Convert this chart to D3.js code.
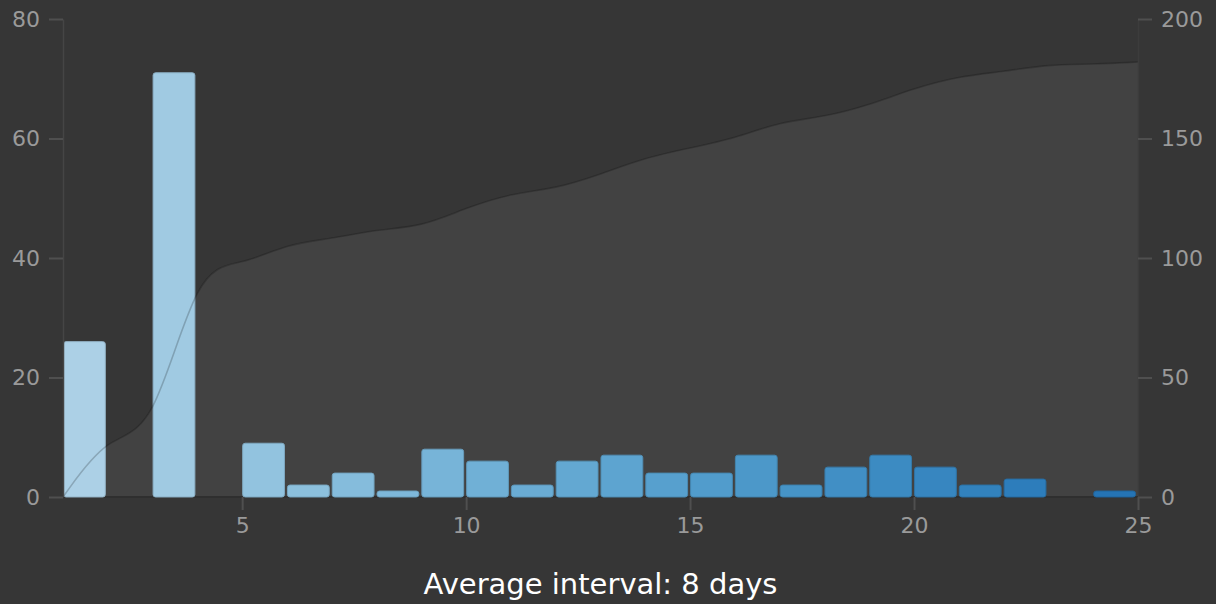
<!DOCTYPE html>
<html>
<head>
<meta charset="utf-8">
<script src="https://cdn.jsdelivr.net/npm/d3@7"></script>
<style>
html,body{margin:0;padding:0;background:#363636;}
svg{display:block;}
text{font-family:"DejaVu Sans",sans-serif;}
</style>
</head>
<body>
<svg id="chart" width="1216" height="604"></svg>
<script>
// ---- data ----
const intervals = [1,2,3,4,5,6,7,8,9,10,11,12,13,14,15,16,17,18,19,20,21,22,23,24];
const counts    = [26,0,71,0,9,2,4,1,8,6,2,6,7,4,4,7,2,5,7,5,2,3,0,1];
const leftTicks  = [0,20,40,60,80];
const rightTicks = [0,50,100,150,200];
const xTicks     = [5,10,15,20,25];
const title = "Average interval: 8 days";

// cumulative series (value at x = i+1 is the total through interval i)
const cumX = [1].concat(intervals.map(d => d + 1));
const cumY = [0];
counts.forEach((c, i) => cumY.push(cumY[i] + c));

const svg = d3.select("#chart");
const W = 1216, H = 604;
svg.append("rect").attr("width", W).attr("height", H).attr("fill", "#363636");

const x = d3.scaleLinear().domain([1, 25]).range([63, 1138]);
const yL = d3.scaleLinear().domain([0, 80]).range([497, 19]);
const yR = d3.scaleLinear().domain([0, 200]).range([497, 19]);
const color = d3.scaleLinear().domain([1, 24]).range([0.33, 0.74]);

// cumulative area (behind bars)
const pts = cumX.map((v, i) => [v, cumY[i]]);
const area = d3.area().x(d => x(d[0])).y0(yR(0)).y1(d => yR(d[1])).curve(d3.curveBasis);
const line = d3.line().x(d => x(d[0])).y(d => yR(d[1])).curve(d3.curveBasis);
svg.append("path").attr("d", area(pts)).attr("fill", "#424242");

// bottom domain line
svg.append("line").attr("x1", x(1)).attr("x2", x(25)).attr("y1", yL(0)).attr("y2", yL(0))
  .attr("stroke", "#2f2f2f").attr("stroke-width", 2);

// bars
const step = x(2) - x(1);
svg.append("g").selectAll("rect").data(intervals.map((d, i) => ({k: d, v: counts[i]})).filter(d => d.v > 0))
  .join("rect")
  .attr("x", d => x(d.k) + 0.5)
  .attr("width", step - 3)
  .attr("y", d => yL(d.v))
  .attr("height", d => yL(0) - yL(d.v))
  .attr("rx", 2.5).attr("ry", 2.5)
  .attr("fill", d => d3.interpolateBlues(color(d.k)))
  .attr("stroke", d => d3.color(d3.interpolateBlues(color(d.k))).darker(0.4))
  .attr("stroke-width", 1);

// cumulative line on top
svg.append("path").attr("d", line(pts)).attr("fill", "none")
  .attr("stroke", "#000").attr("stroke-opacity", 0.2).attr("stroke-width", 1.6);

// axes
function styleAxis(g, domainColor) {
  g.selectAll(".domain").attr("stroke", domainColor).attr("stroke-width", 1.5);
  g.selectAll(".tick line").attr("stroke", "#4f4f4f").attr("stroke-width", 2);
  g.selectAll(".tick text").attr("fill", "#9a9a9a").attr("font-size", 22)
    .attr("font-family", "DejaVu Sans, sans-serif");
}
const gl = svg.append("g").attr("transform", `translate(${x(1)},0)`)
  .call(d3.axisLeft(yL).tickValues(leftTicks).tickSize(14).tickPadding(9).tickSizeOuter(0));
styleAxis(gl, "#454545");
const gr = svg.append("g").attr("transform", `translate(${x(25)},0)`)
  .call(d3.axisRight(yR).tickValues(rightTicks).tickSize(14).tickPadding(9).tickSizeOuter(0));
styleAxis(gr, "#3c3c3c");
const gb = svg.append("g").attr("transform", `translate(0,${yL(0)})`)
  .call(d3.axisBottom(x).tickValues(xTicks).tickSize(13).tickPadding(7).tickSizeOuter(0));
styleAxis(gb, "none");
gb.select(".domain").remove();

svg.append("text").attr("x", (x(1) + x(25)) / 2).attr("y", 594)
  .attr("text-anchor", "middle").attr("fill", "#ffffff").attr("font-size", 29)
  .text(title);
</script>
</body>
</html>
